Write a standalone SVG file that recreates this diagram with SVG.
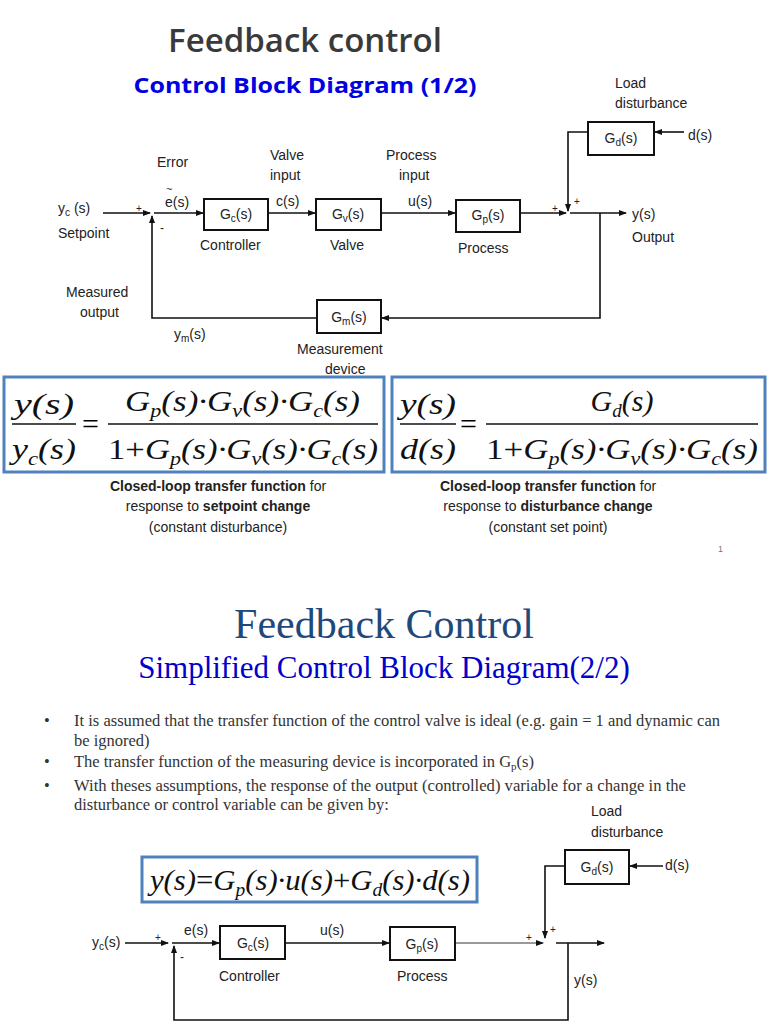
<svg xmlns="http://www.w3.org/2000/svg" width="768" height="1024" viewBox="0 0 768 1024">
<style>
.s{font-family:"Liberation Sans",Arial,sans-serif;font-size:14px;fill:#222}
.sub{font-size:10px}
.blk{fill:#fff;stroke:#111;stroke-width:2}
.ln{stroke:#111;stroke-width:1.6;fill:none}
.eq{font-family:"Liberation Serif","Times New Roman",serif;font-style:italic;fill:#111;font-size:30px}
.eq .b{font-size:19px}
.eb{fill:#fff;stroke:#4f81bd;stroke-width:3}
.tm{font-family:"Liberation Serif","Times New Roman",serif;font-size:16.5px;fill:#333}
</style>
<defs><marker id="a" markerWidth="8" markerHeight="8" refX="7" refY="4" orient="auto" markerUnits="userSpaceOnUse"><path d="M0,1 L8,4 L0,7z" fill="#111"/></marker></defs>
<rect width="768" height="1024" fill="#fff"/>
<text x="305" y="52" text-anchor="middle" font-family="'Open Sans','Liberation Sans',sans-serif" font-weight="600" font-size="33" fill="#3a3a3a">Feedback control</text>
<text x="305" y="93" text-anchor="middle" font-family="'Open Sans','Liberation Sans',sans-serif" font-weight="bold" font-size="22" fill="#0000e0" textLength="343" lengthAdjust="spacingAndGlyphs">Control Block Diagram (1/2)</text>

<g id="connectors1">
<path class="ln" d="M103,213 H150" marker-end="url(#a)"/>
<path class="ln" d="M154,213 H203" marker-end="url(#a)"/>
<path class="ln" d="M268,213 H315" marker-end="url(#a)"/>
<path class="ln" d="M381,213 H455" marker-end="url(#a)"/>
<path class="ln" d="M520,213 H566" marker-end="url(#a)"/>
<path class="ln" d="M570,213 H626" marker-end="url(#a)"/>
<path class="ln" d="M684,132 H655" marker-end="url(#a)"/>
<path class="ln" d="M588,132 H568 V211" marker-end="url(#a)"/>
<path class="ln" d="M600,213 V318 H382" marker-end="url(#a)"/>
<path class="ln" d="M317,318 H152 V216" marker-end="url(#a)"/>
</g>
<g id="Gc"><rect class="blk" x="204" y="199" width="64" height="31"/><text class="s" x="236" y="219" text-anchor="middle">G<tspan class="sub" dy="3">c</tspan><tspan dy="-3">(s)</tspan></text></g>
<g id="Gv"><rect class="blk" x="316" y="199" width="65" height="31"/><text class="s" x="348" y="219" text-anchor="middle">G<tspan class="sub" dy="3">v</tspan><tspan dy="-3">(s)</tspan></text></g>
<g id="Gp"><rect class="blk" x="456" y="200" width="64" height="32"/><text class="s" x="488" y="220" text-anchor="middle">G<tspan class="sub" dy="3">p</tspan><tspan dy="-3">(s)</tspan></text></g>
<g id="Gd"><rect class="blk" x="588" y="122" width="66" height="33"/><text class="s" x="621" y="143" text-anchor="middle">G<tspan class="sub" dy="3">d</tspan><tspan dy="-3">(s)</tspan></text></g>
<g id="Gm"><rect class="blk" x="317" y="300" width="64" height="33"/><text class="s" x="349" y="322" text-anchor="middle">G<tspan class="sub" dy="3">m</tspan><tspan dy="-3">(s)</tspan></text></g>
<g id="labels1" class="s">
<text x="615" y="88">Load</text><text x="615" y="108">disturbance</text>
<text x="688" y="140">d(s)</text>
<text x="157" y="167">Error</text>
<text x="270" y="160">Valve</text><text x="270" y="180">input</text>
<text x="386" y="160">Process</text><text x="399" y="180">input</text>
<text x="165" y="207">e(s)</text><text x="166" y="193" font-size="11">~</text>
<text x="276" y="206">c(s)</text>
<text x="408" y="206">u(s)</text>
<text x="58" y="213">y<tspan class="sub" dy="3">c</tspan><tspan dy="-3"> (s)</tspan></text>
<text x="58" y="238">Setpoint</text>
<text x="136" y="212" font-size="10">+</text>
<text x="160" y="232" font-size="12">-</text>
<text x="200" y="250">Controller</text>
<text x="330" y="250">Valve</text>
<text x="458" y="253">Process</text>
<text x="552" y="212" font-size="10">+</text>
<text x="574" y="205" font-size="10">+</text>
<text x="632" y="219">y(s)</text>
<text x="632" y="242">Output</text>
<text x="66" y="297">Measured</text><text x="80" y="317">output</text>
<text x="174" y="339">y<tspan class="sub" dy="3">m</tspan><tspan dy="-3">(s)</tspan></text>
<text x="297" y="354">Measurement</text><text x="325" y="374">device</text>
</g>

<g id="eq1"><rect class="eb" x="4" y="377" width="380" height="95"/>
<text class="eq" x="14" y="414" textLength="60" lengthAdjust="spacingAndGlyphs">y(s)</text>
<line x1="12" y1="424" x2="76" y2="424" stroke="#111" stroke-width="1.3"/>
<text class="eq" x="12" y="459" textLength="64" lengthAdjust="spacingAndGlyphs">y<tspan class="b" dy="6">c</tspan><tspan dy="-6">(s)</tspan></text>
<text x="82" y="434" font-family="'Liberation Serif',serif" font-size="30">=</text>
<line x1="108" y1="424" x2="378" y2="424" stroke="#111" stroke-width="1.3"/>
<text class="eq" x="125" y="411" textLength="235" lengthAdjust="spacingAndGlyphs">G<tspan class="b" dy="6">p</tspan><tspan dy="-6">(s)·G</tspan><tspan class="b" dy="6">v</tspan><tspan dy="-6">(s)·G</tspan><tspan class="b" dy="6">c</tspan><tspan dy="-6">(s)</tspan></text>
<text class="eq" x="108" y="459" textLength="270" lengthAdjust="spacingAndGlyphs"><tspan font-style="normal">1+</tspan>G<tspan class="b" dy="6">p</tspan><tspan dy="-6">(s)·G</tspan><tspan class="b" dy="6">v</tspan><tspan dy="-6">(s)·G</tspan><tspan class="b" dy="6">c</tspan><tspan dy="-6">(s)</tspan></text>
</g>
<g id="eq2"><rect class="eb" x="392" y="377" width="373" height="95"/>
<text class="eq" x="400" y="414" textLength="56" lengthAdjust="spacingAndGlyphs">y(s)</text>
<line x1="400" y1="424" x2="456" y2="424" stroke="#111" stroke-width="1.3"/>
<text class="eq" x="400" y="459" textLength="56" lengthAdjust="spacingAndGlyphs">d(s)</text>
<text x="460" y="434" font-family="'Liberation Serif',serif" font-size="30">=</text>
<line x1="486" y1="424" x2="758" y2="424" stroke="#111" stroke-width="1.3"/>
<text class="eq" x="622" y="411" text-anchor="middle">G<tspan class="b" dy="6">d</tspan><tspan dy="-6">(s)</tspan></text>
<text class="eq" x="486" y="459" textLength="272" lengthAdjust="spacingAndGlyphs"><tspan font-style="normal">1+</tspan>G<tspan class="b" dy="6">p</tspan><tspan dy="-6">(s)·G</tspan><tspan class="b" dy="6">v</tspan><tspan dy="-6">(s)·G</tspan><tspan class="b" dy="6">c</tspan><tspan dy="-6">(s)</tspan></text>
</g>
<g class="s" text-anchor="middle">
<text x="218" y="491"><tspan font-weight="bold">Closed-loop transfer function</tspan> for</text>
<text x="218" y="511">response to <tspan font-weight="bold">setpoint change</tspan></text>
<text x="218" y="532">(constant disturbance)</text>
<text x="548" y="491"><tspan font-weight="bold">Closed-loop transfer function</tspan> for</text>
<text x="548" y="511">response to <tspan font-weight="bold">disturbance change</tspan></text>
<text x="548" y="532">(constant set point)</text>
</g>
<text x="718" y="552" font-family="'Liberation Sans',sans-serif" font-size="9" fill="#777">1</text>

<text x="384" y="638" text-anchor="middle" font-family="'Liberation Serif',serif" font-size="42" fill="#1f497d">Feedback Control</text>
<text x="384" y="678" text-anchor="middle" font-family="'Liberation Serif',serif" font-size="31" fill="#0000cc">Simplified Control Block Diagram(2/2)</text>
<g class="tm">
<text x="44" y="726">•</text><text x="74" y="726" textLength="646" lengthAdjust="spacingAndGlyphs">It is assumed that the transfer function of the control valve is ideal (e.g. gain = 1 and dynamic can</text>
<text x="74" y="746">be ignored)</text>
<text x="44" y="767">•</text><text x="74" y="767">The transfer function of the measuring device is incorporated in G<tspan font-size="11" dy="3">p</tspan><tspan dy="-3">(s)</tspan></text>
<text x="44" y="791">•</text><text x="74" y="791" textLength="612" lengthAdjust="spacingAndGlyphs">With theses assumptions, the response of the output (controlled) variable for a change in the</text>
<text x="74" y="810">disturbance or control variable can be given by:</text>
</g>

<g id="eq3"><rect class="eb" x="142" y="857" width="335" height="45"/>
<text class="eq" x="150" y="890" textLength="320" lengthAdjust="spacingAndGlyphs">y(s)<tspan font-style="normal">=</tspan>G<tspan class="b" dy="6">p</tspan><tspan dy="-6">(s)·u(s)</tspan><tspan font-style="normal">+</tspan>G<tspan class="b" dy="6">d</tspan><tspan dy="-6">(s)·d(s)</tspan></text>
</g>
<g id="connectors2">
<path class="ln" d="M125,943 H168" marker-end="url(#a)"/>
<path class="ln" d="M172,943 H219" marker-end="url(#a)"/>
<path class="ln" d="M285,943 H389" marker-end="url(#a)"/>
<path d="M455,943 H543" stroke="#777" stroke-width="1.6" fill="none" marker-end="url(#a)"/>
<path class="ln" d="M556,943 H604" marker-end="url(#a)"/>
<path class="ln" d="M663,866 H630" marker-end="url(#a)"/>
<path class="ln" d="M565,866 H545 V938" marker-end="url(#a)"/>
<path class="ln" d="M568,943 V1020 H174 V946" marker-end="url(#a)"/>
</g>
<g id="Gc2"><rect class="blk" x="220" y="926" width="65" height="33"/><text class="s" x="253" y="948" text-anchor="middle">G<tspan class="sub" dy="3">c</tspan><tspan dy="-3">(s)</tspan></text></g>
<g id="Gp2"><rect class="blk" x="390" y="927" width="65" height="33"/><text class="s" x="422" y="949" text-anchor="middle">G<tspan class="sub" dy="3">p</tspan><tspan dy="-3">(s)</tspan></text></g>
<g id="Gd2"><rect class="blk" x="565" y="850" width="64" height="34"/><text class="s" x="597" y="872" text-anchor="middle">G<tspan class="sub" dy="3">d</tspan><tspan dy="-3">(s)</tspan></text></g>
<g class="s">
<text x="591" y="816">Load</text><text x="591" y="837">disturbance</text>
<text x="665" y="870">d(s)</text>
<text x="92" y="947">y<tspan class="sub" dy="3">c</tspan><tspan dy="-3">(s)</tspan></text>
<text x="155" y="941" font-size="10">+</text>
<text x="180" y="961" font-size="12">-</text>
<text x="184" y="935">e(s)</text>
<text x="320" y="935">u(s)</text>
<text x="219" y="981">Controller</text>
<text x="397" y="981">Process</text>
<text x="526" y="941" font-size="10">+</text>
<text x="550" y="933" font-size="10">+</text>
<text x="574" y="985">y(s)</text>
</g>
</svg>
